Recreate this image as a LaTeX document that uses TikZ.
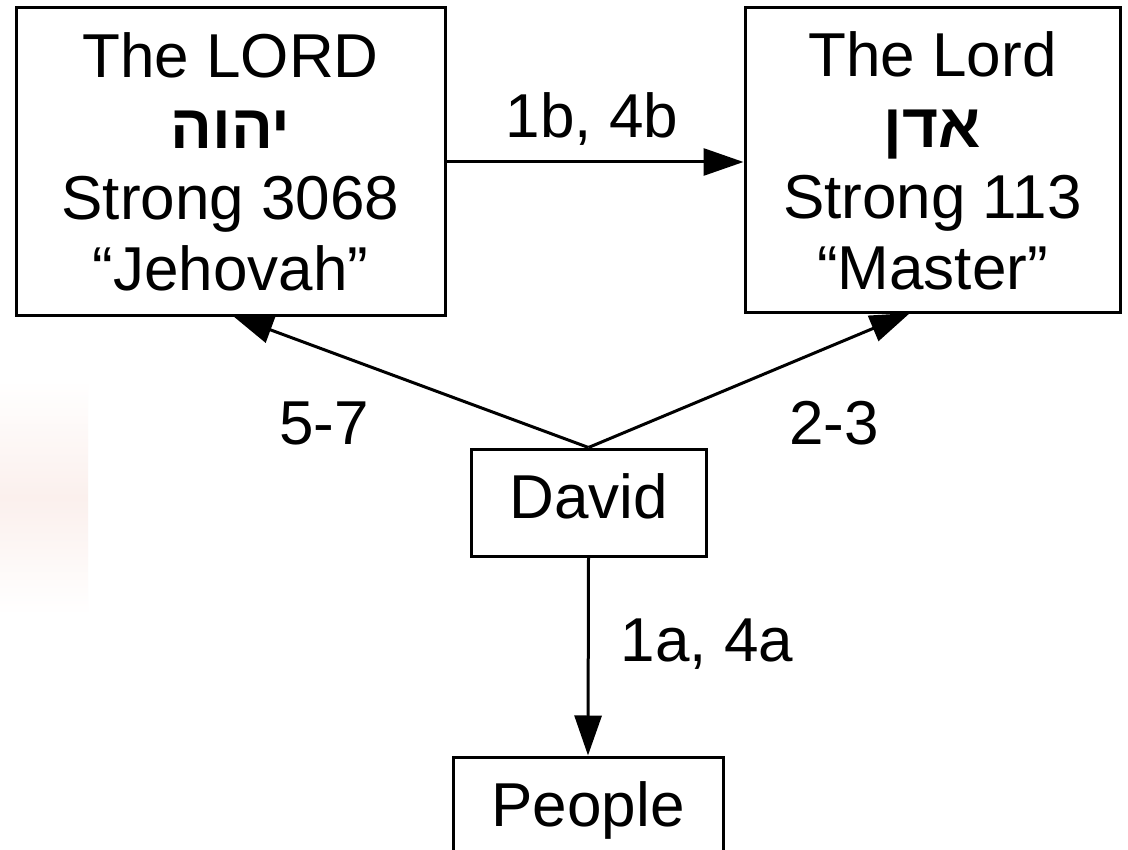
\documentclass[tikz,border=0pt]{standalone}
\usepackage{fontspec}
\setmainfont{Liberation Sans}
\newfontfamily\hebfont[Script=Hebrew]{Liberation Sans}
\TeXXeTstate=1
\usetikzlibrary{arrows.meta,calc}
\definecolor{pinkish}{RGB}{251,240,237}
\begin{document}
\begin{tikzpicture}[x=1pt,y=-1pt,
  box/.style={draw,line width=3pt,fill=white,inner sep=0pt,align=center,font=\fontsize{62}{71}\selectfont},
  lbl/.style={font=\fontsize{62}{71}\selectfont,inner sep=0pt,anchor=base},
  conn/.style={line width=3pt,-{Triangle[length=40pt,width=27pt]}}]
\clip (0,0) rectangle (1128,850);
\fill[white] (0,0) rectangle (1128,850);
\shade[top color=white,bottom color=white,middle color=pinkish] (0,380) rectangle (88,615);
% connectors first (heads partly hidden behind boxes)
\coordinate (Ltip) at (233,316);
\coordinate (Rtip) at (910,313);
\node[box,minimum width=235pt,minimum height=107pt,text height=45pt,text depth=14pt] (D) at (588.5,502.5) {David};
\node[box,minimum width=270pt,minimum height=108pt,text height=45pt,text depth=14pt] (P) at (588,811) {People};
\draw[conn] (D.north) -- (Ltip);
\draw[conn] (D.north) -- (Rtip);
\node[box,minimum width=429pt,minimum height=308pt] (L) at (230.5,162)
  {The LORD\\{\hebfont\bfseries\beginR יהוה\endR}\\Strong 3068\\“Jehovah”};
\node[box,minimum width=375pt,minimum height=305pt] (R) at (932.5,160.5)
  {The Lord\\{\hebfont\bfseries\beginR אדן\endR}\\Strong 113\\“Master”};
\draw[conn] (L.east) -- (L.east -| R.west);
\draw[conn] (D.south) -- (P.north);
\node[lbl] (l1) at (592,138) {1b, 4b};
\node[lbl] (l2) at (324,445) {5-7};
\node[lbl] (l3) at (834,445) {2-3};
\node[lbl] (l4) at (707,661) {1a, 4a};
\end{tikzpicture}
\end{document}
